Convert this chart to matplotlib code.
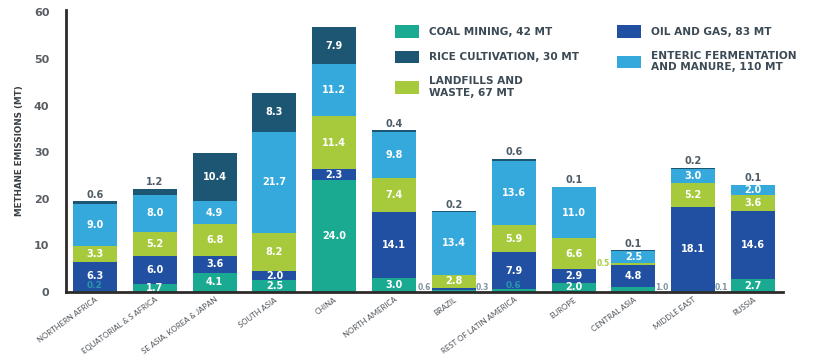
import numpy as np
import matplotlib
matplotlib.use("Agg")
import matplotlib.pyplot as plt
from matplotlib.patches import Patch

# data (MT of methane)
regions = ["NORTHERN AFRICA", "EQUATORIAL & S AFRICA", "SE ASIA, KOREA & JAPAN",
           "SOUTH ASIA", "CHINA", "NORTH AMERICA", "BRAZIL", "REST OF LATIN AMERICA",
           "EUROPE", "CENTRAL ASIA", "MIDDLE EAST", "RUSSIA"]
coal = [0.2, 1.7, 4.1, 2.5, 24.0, 3.0, 0.3, 0.6, 2.0, 1.0, 0.1, 2.7]
oil_gas = [6.3, 6.0, 3.6, 2.0, 2.3, 14.1, 0.6, 7.9, 2.9, 4.8, 18.1, 14.6]
landfills = [3.3, 5.2, 6.8, 8.2, 11.4, 7.4, 2.8, 5.9, 6.6, 0.5, 5.2, 3.6]
enteric = [9.0, 8.0, 4.9, 21.7, 11.2, 9.8, 13.4, 13.6, 11.0, 2.5, 3.0, 2.0]
rice = [0.6, 1.2, 10.4, 8.3, 7.9, 0.4, 0.2, 0.6, 0.1, 0.1, 0.2, 0.1]

legend_labels = ["COAL MINING, 42 MT", "OIL AND GAS, 83 MT", "LANDFILLS AND\nWASTE, 67 MT",
                 "ENTERIC FERMENTATION\nAND MANURE, 110 MT", "RICE CULTIVATION, 30 MT"]

COLORS = ["#1aaa91", "#2150a2", "#a7ca3d", "#36a9dc", "#1d5672"]
TXT = "#3b4a55"

# where the tiny values get their labels (region index, series index) -> side
SIDE = {(6, 1): "left", (6, 0): "right", (9, 0): "right", (10, 0): "right",
        (9, 2): "left"}
FAINT = {(0, 0), (7, 0)}

fig = plt.figure(figsize=(8.14, 3.59), dpi=100)
ax = fig.add_axes([0.081, 0.187, 0.881, 0.785])

series = [coal, oil_gas, landfills, enteric, rice]
xs = np.arange(len(regions))
W = 0.735
bottom = np.zeros(len(regions))
for si, vals in enumerate(series):
    vals = np.asarray(vals)
    ax.bar(xs, vals, W, bottom=bottom, color=COLORS[si], edgecolor="none")
    for i, v in enumerate(vals):
        mid = bottom[i] + v / 2
        if (i, si) in SIDE:
            dx = -0.5 if SIDE[(i, si)] == "left" else 0.47
            col = "#a7ca3d" if si == 2 else "#7f95a3"
            ax.text(xs[i] + dx, max(mid, 0.9), "%.1f" % v, ha="center", va="center",
                    fontsize=5.5, color=col, fontweight="bold")
        elif (i, si) in FAINT:
            ax.text(xs[i], 1.3, "%.1f" % v, ha="center", va="center",
                    fontsize=6.5, color="#2aa7b0", fontweight="bold", alpha=0.8)
        elif si == 4 and v < 1.5:
            ax.text(xs[i], bottom[i] + v + 0.35, "%.1f" % v, ha="center", va="bottom",
                    fontsize=7, color="#4d5c66", fontweight="bold")
        elif v >= 1.5:
            ax.text(xs[i], mid, "%.1f" % v, ha="center", va="center",
                    fontsize=7, color="white", fontweight="bold")
    bottom += vals

ax.set_xlim(-0.485, 11.5)
ax.set_ylim(0, 60.5)
ax.set_yticks(range(0, 61, 10))
ax.set_xticks(xs)
ax.set_xticklabels(regions, rotation=36, ha="right", rotation_mode="anchor",
                   fontsize=5.6, color="#4a4f55", family="Lato")
ax.tick_params(axis="both", length=0)
ax.tick_params(axis="y", pad=12, labelsize=8, labelcolor="#5a5f64")
ax.tick_params(axis="x", pad=3)
for lab in ax.get_yticklabels():
    lab.set_fontweight("bold")
for s in ("top", "right"):
    ax.spines[s].set_visible(False)
for s in ("left", "bottom"):
    ax.spines[s].set_linewidth(2)
    ax.spines[s].set_color("#2e2a2a")
ax.set_ylabel("METHANE EMISSIONS (MT)", fontsize=6.3, fontweight="bold", color="#3a3f44",
              labelpad=7)

# legend: column 1 coal/rice/landfills, column 2 oil/enteric
order = [0, 4, 2, 1, 3]
handles = [Patch(facecolor=COLORS[k], edgecolor="none") for k in order]
leg = ax.legend(handles, [legend_labels[k] for k in order], ncol=2, frameon=False,
                loc="upper left", bbox_to_anchor=(395 / 814, 1 - 25 / 359),
                bbox_transform=fig.transFigure, borderaxespad=0, borderpad=0,
                fontsize=7.6, handlelength=2.3, handleheight=1.45, handletextpad=0.9,
                labelspacing=1.25, columnspacing=3.6)
for t in leg.get_texts():
    t.set_color(TXT)
    t.set_fontweight("bold")

fig.savefig("out.png", dpi=100, facecolor="white")
